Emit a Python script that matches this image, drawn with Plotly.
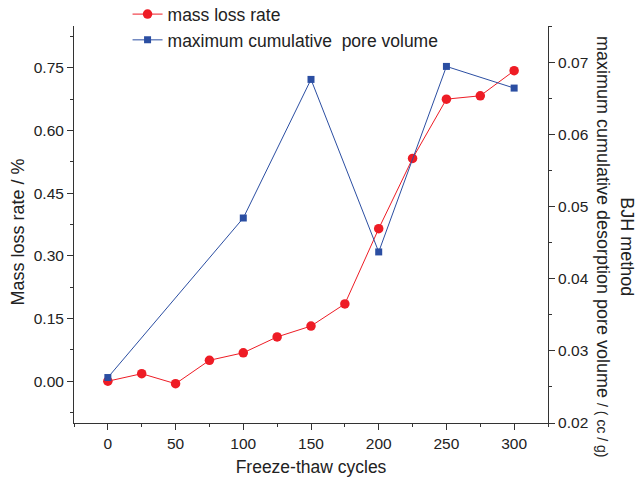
import plotly.graph_objects as go

cycles = [0, 25, 50, 75, 100, 125, 150, 175, 200, 225, 250, 275, 300]
mass_loss = [0.0, 0.018, -0.006, 0.050, 0.068, 0.106, 0.132, 0.185, 0.365, 0.533, 0.675, 0.683, 0.743]

pore_cycles = [0, 100, 150, 200, 250, 300]
pore_volume = [0.0263, 0.0484, 0.0676, 0.0437, 0.0694, 0.0664]

RED = "#EE1C25"
BLUE = "#2B4EA2"
AX = "#333333"
FONT = "Arial, Liberation Sans, sans-serif"

fig = go.Figure()
fig.add_trace(go.Scatter(
    x=cycles, y=mass_loss, name="mass loss rate", mode="lines+markers",
    line=dict(color=RED, width=1), marker=dict(symbol="circle", size=9.5, color=RED),
    yaxis="y"))
fig.add_trace(go.Scatter(
    x=pore_cycles, y=pore_volume, name="maximum cumulative  pore volume", mode="lines+markers",
    line=dict(color=BLUE, width=1), marker=dict(symbol="square", size=7, color=BLUE),
    yaxis="y2"))

axis_common = dict(showgrid=False, zeroline=False, showline=True, linecolor=AX, linewidth=1,
                   ticks="outside", tickcolor=AX, ticklen=6, tickwidth=1,
                   tickfont=dict(family=FONT, size=15.5, color="#222222"))

fig.update_layout(
    width=637, height=477,
    margin=dict(l=74, r=89, t=26, b=54, autoexpand=False),
    paper_bgcolor="white", plot_bgcolor="white",
    font=dict(family=FONT, color="#222222"),
    showlegend=True,
    legend=dict(x=0.113, y=1.075, xanchor="left", yanchor="top",
                font=dict(family=FONT, size=17.5, color="#222222"),
                bgcolor="rgba(0,0,0,0)", tracegroupgap=0, itemwidth=30),
    xaxis=dict(range=[-25, 325], tickvals=[0, 50, 100, 150, 200, 250, 300],
               minor=dict(dtick=25, tick0=0, ticks="outside", ticklen=3, tickcolor=AX),
               title=dict(text="Freeze-thaw cycles", font=dict(family=FONT, size=17.5, color="#222222"), standoff=11),
               **axis_common),
    yaxis=dict(range=[-0.1, 0.85], tick0=0, dtick=0.15, tickformat=".2f",
               minor=dict(dtick=0.075, tick0=0, ticks="outside", ticklen=3, tickcolor=AX),
               **axis_common),
    yaxis2=dict(range=[0.02, 0.075], overlaying="y", side="right", tick0=0.02, dtick=0.01,
                tickformat=".2f",
                minor=dict(dtick=0.005, tick0=0.02, ticks="outside", ticklen=3, tickcolor=AX),
                **axis_common),
)

fig.add_annotation(text="Mass loss rate / %", xref="paper", yref="paper",
                   x=-0.118, y=0.48, xanchor="center", yanchor="middle", textangle=-90,
                   showarrow=False, font=dict(family=FONT, size=18, color="#222222"))
fig.add_annotation(text="BJH method<br>maximum cumulative desorption pore volume <span style='font-size:14px'>/ ( cc / g)</span>",
                   xref="paper", yref="paper", x=1.141, y=0.444, xanchor="center", yanchor="middle",
                   textangle=90, showarrow=False,
                   font=dict(family=FONT, size=18, color="#222222"))

fig.write_html("out.html")
